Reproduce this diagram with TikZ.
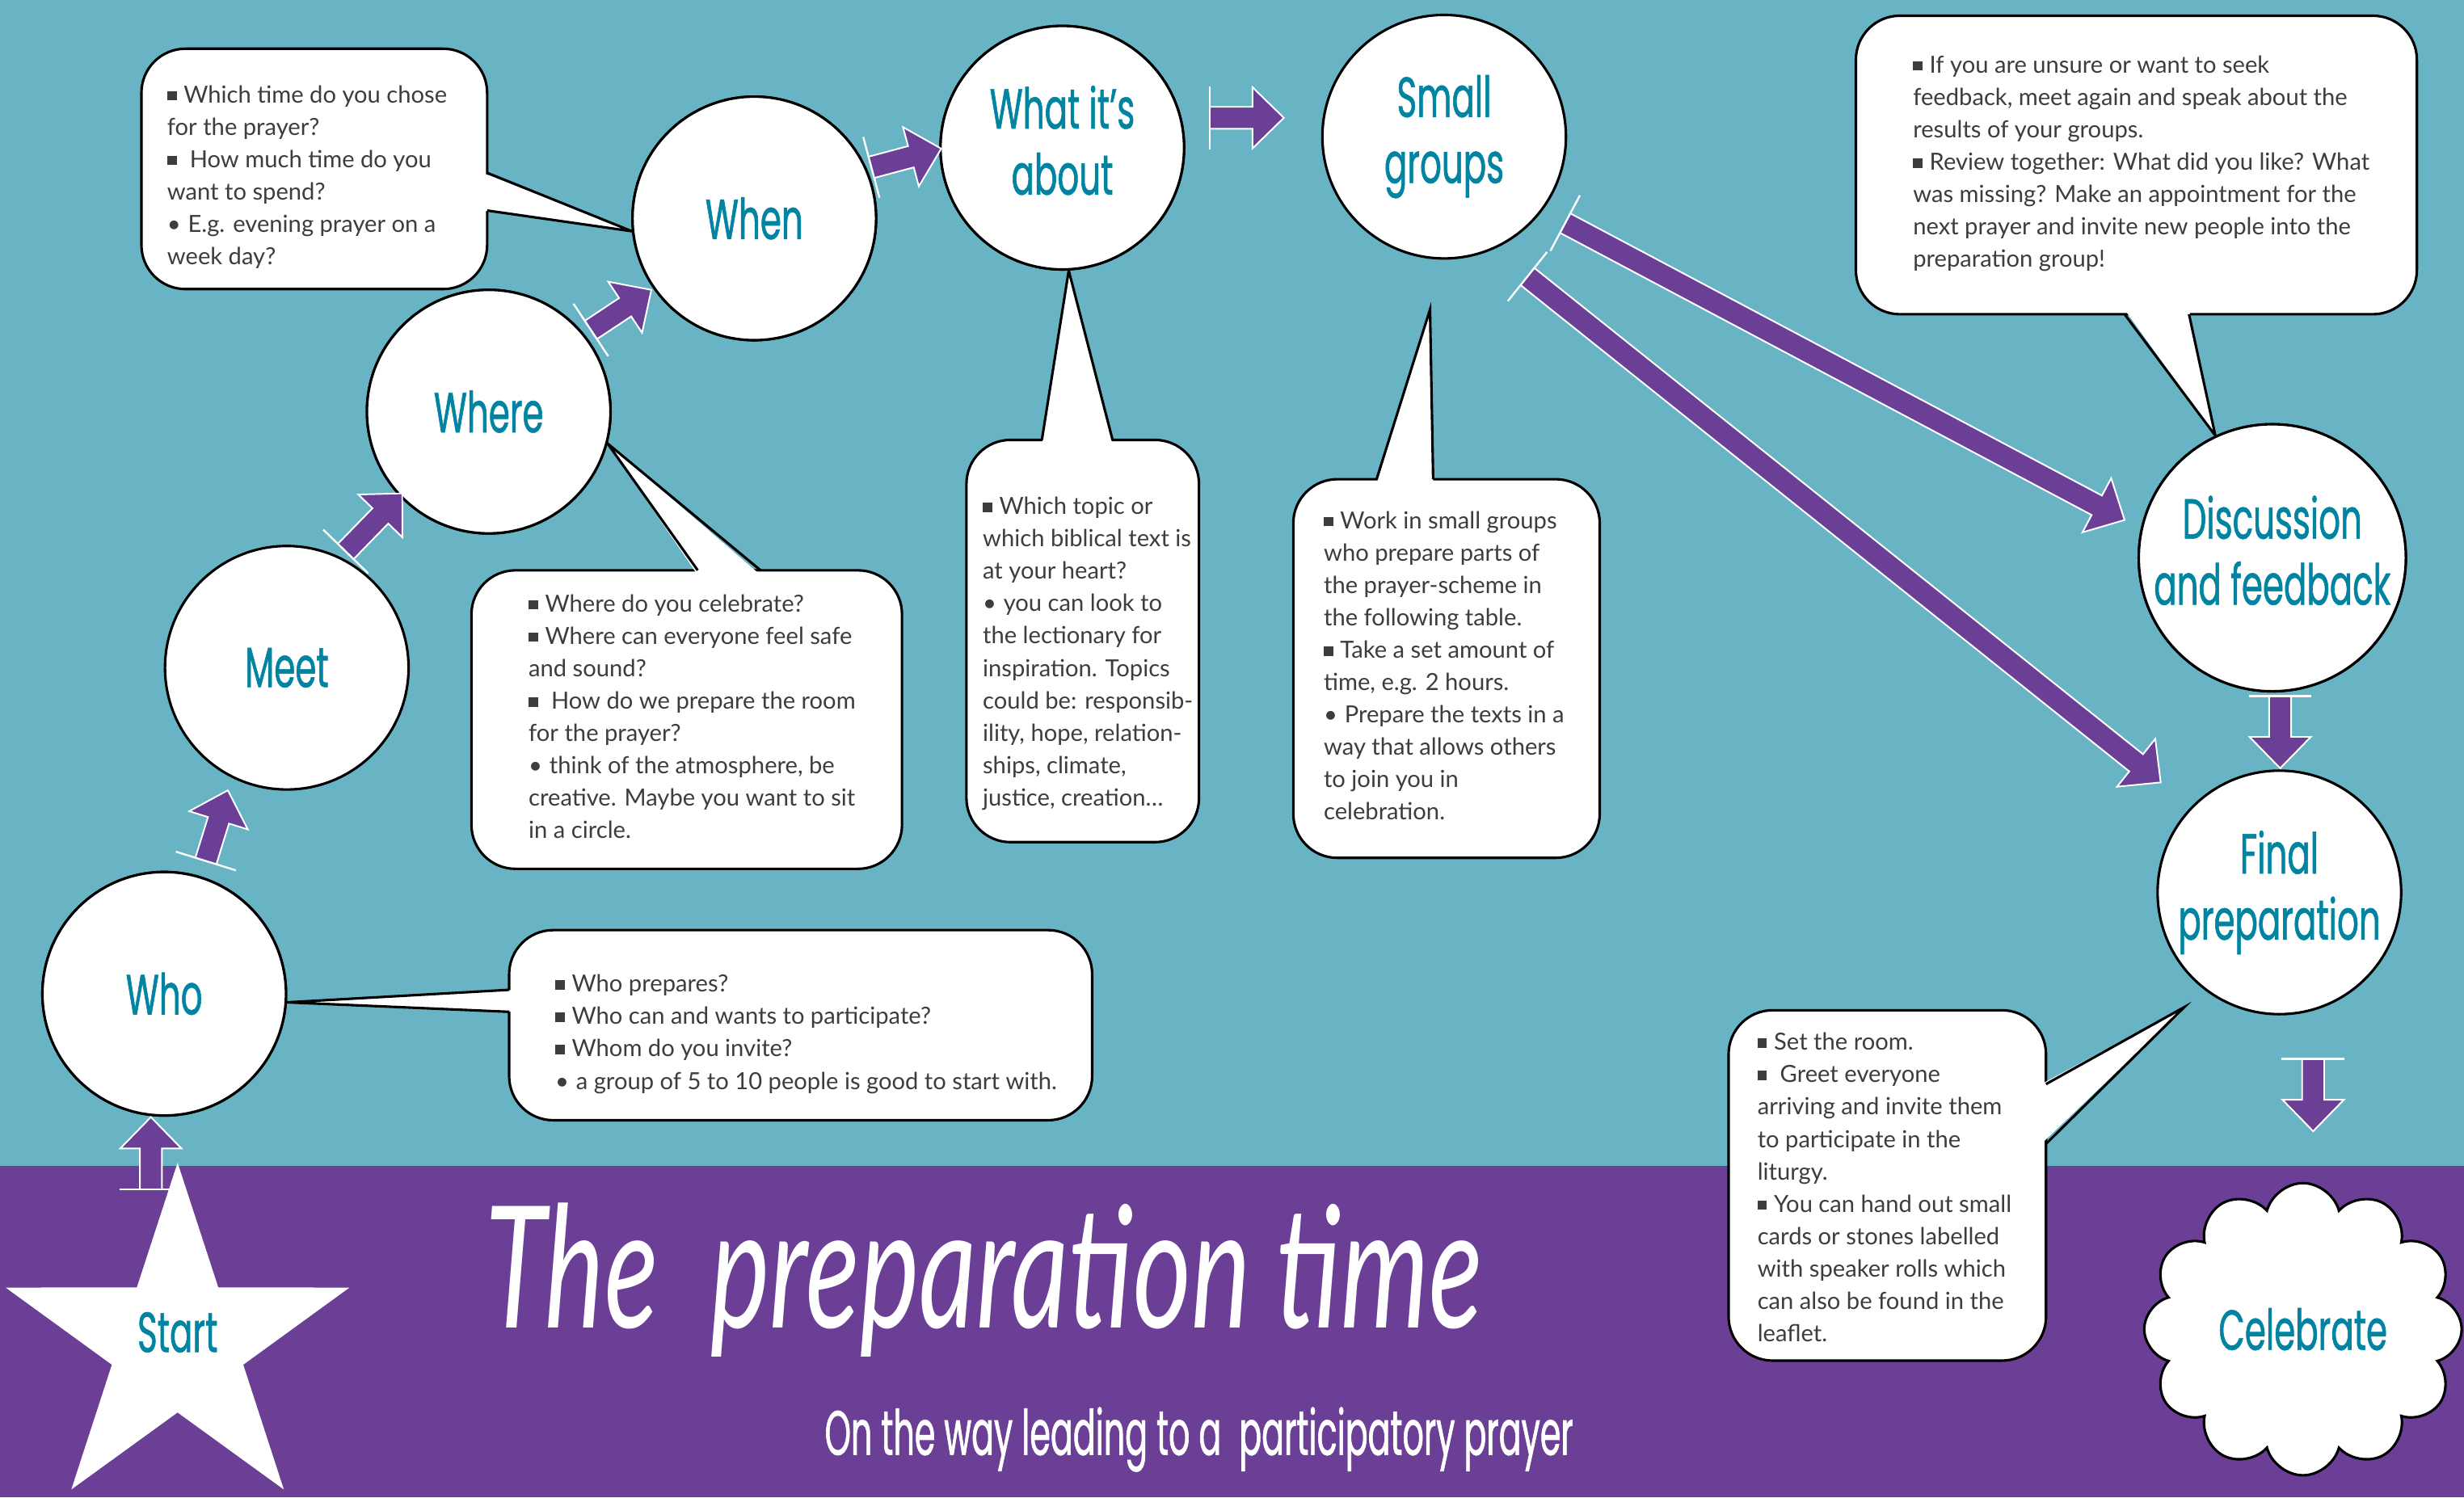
\documentclass[tikz,border=0pt]{standalone}
\usepackage{fontspec}
\setmainfont{Lato}
\newfontfamily\futura{Poppins}[FakeStretch=0.6,FakeBold=0.8]
\newfontfamily\futurasub{Poppins}[FakeStretch=0.53,FakeBold=0.8]
\newfontfamily\handfont{Lato}[FakeStretch=0.66]
\usetikzlibrary{shapes.symbols,calc}
\definecolor{bgteal}{HTML}{68B4C4}
\definecolor{bgpurple}{HTML}{6B3F96}
\definecolor{labteal}{HTML}{0084A1}
\definecolor{txtgray}{HTML}{3D3D3D}
\newcommand\sq{\rule[0.1em]{0.4em}{0.4em}\hspace{0.3em}}
\newcommand\bu{\textbullet\hspace{0.3em}}
\newcommand\blockarrow[2]{%
  \path (#1); \pgfgetlastxy{\bax}{\bay}%
  \path (#2); \pgfgetlastxy{\bbx}{\bby}%
  \pgfmathsetmacro\baang{atan2(\bby-\bay,\bbx-\bax)}%
  \pgfmathsetmacro\balen{veclen(\bbx-\bax,\bby-\bay)}%
  \pgfmathsetmacro\bahead{\balen-10}%
  \begin{scope}[shift={(#1)},rotate=\baang]
    \filldraw[arrowbody] (0pt,-3.5pt) -- (\bahead pt,-3.5pt) -- (\bahead pt,-9.75pt) -- (\balen pt,0pt) -- (\bahead pt,9.75pt) -- (\bahead pt,3.5pt) -- (0pt,3.5pt);
    \draw[arrowbar] (0pt,-10pt) -- (0pt,10pt);
  \end{scope}}
\begin{document}
\begin{tikzpicture}[x=0.5pt,y=-0.5pt,
  stage/.style={circle, draw=black, line width=0.8pt, fill=white, minimum size=77.5pt, inner sep=0pt, text=labteal, font=\futura\fontsize{18}{21}\selectfont, align=center},
  callout/.style={draw=black, line width=0.8pt, fill=white, rounded corners=14pt},
  tailfill/.style={fill=white},
  tailline/.style={draw=black, line width=0.8pt, line join=miter},
  body/.style={font=\fontsize{7.5}{10.3}\selectfont, text=txtgray, align=left, inner sep=0pt, anchor=north west},
  arrowbody/.style={fill=bgpurple, draw=white, line width=0.5pt, line join=miter},
  arrowbar/.style={draw=white, line width=0.6pt},
  lab/.style={text=labteal, font=\futura\fontsize{18}{21}\selectfont, align=center, inner sep=0pt}]

\useasboundingbox (0,0) rectangle (1568,953);
\fill[bgteal] (0,0) rectangle (1568,742);
\fill[bgpurple] (0,742) rectangle (1568,953);

% circle nodes
\node[stage] (who) at (104.5,632.5) {Who};
\node[stage] (meet) at (182.5,425) {Meet};
\node[stage] (where) at (311,262) {Where};
\node[stage] (when) at (480,139) {When};
\node[stage] (what) at (676,94) {What it’s\\about\vphantom{gp}};
\node[stage] (small) at (919,87) {Small\\groups};
\node[stage] (disc) at (1446,355) {Discussion\\and feedback\vphantom{gp}};
\node[stage] (final) at (1450.5,568) {Final\\preparation};

% pointer tips not on circles
\coordinate (tipsmall) at (910,197);
\coordinate (tipfinal) at (1390,641);

% callouts
\draw[callout] (90,31) rectangle (310,184);
\fill[tailfill] (307,110) -- (when.186) -- (307,134) -- cycle;
\draw[tailline] (310,110) -- (when.186) -- (310,134);

\draw[callout] (300,363) rectangle (574,553);
\fill[tailfill] (444,366) -- (where.-15) -- (484,366) -- cycle;
\draw[tailline] (444,363) -- (where.-15) -- (484,363);

\draw[callout] (615,280) rectangle (763,536);
\fill[tailfill] (663,283) -- (what.-87) -- (708,283) -- cycle;
\draw[tailline] (663,280) -- (what.-87) -- (708,280);

\draw[callout] (823,305) rectangle (1018,546);
\fill[tailfill] (876,308) -- (tipsmall) -- (912,308) -- cycle;
\draw[tailline] (876,305) -- (tipsmall) -- (912,305);

\draw[callout] (324,592) rectangle (695,713);
\fill[tailfill] (327,630) -- (who.-4) -- (327,644) -- cycle;
\draw[tailline] (324,630) -- (who.-4) -- (324,644);

\draw[callout] (1181,10) rectangle (1538,200);
\fill[tailfill] (1352,197) -- (disc.115) -- (1393,197) -- cycle;
\draw[tailline] (1352,200) -- (disc.115) -- (1393,200);

\draw[callout] (1100,643) rectangle (1302,866);
\fill[tailfill] (1299,690) -- (tipfinal) -- (1299,728) -- cycle;
\draw[tailline] (1302,690) -- (tipfinal) -- (1302,728);

% redraw circles on top of pointer tips
\node[stage] at (who) {Who};
\node[stage] at (where) {Where};
\node[stage] at (when) {When};
\node[stage] at (what) {What it’s\\about\vphantom{gp}};
\node[stage] at (disc) {Discussion\\and feedback\vphantom{gp}};

% callout texts
\node[body] (twhen) at (106,54) {\sq Which time do you chose\\for the prayer?\\\sq\ How much time do you\\want to spend?\\\bu E.g. evening prayer on a\\week day?};
\node[body] (twhere) at (336,378) {\sq Where do you celebrate?\\\sq Where can everyone feel safe\\and sound?\\\sq\ How do we prepare the room\\for the prayer?\\\bu think of the atmosphere, be\\creative. Maybe you want to sit\\in a circle.};
\node[body] (twhat) at (625,316) {\sq Which topic or\\which biblical text is\\at your heart?\\\bu you can look to\\the lectionary for\\inspiration. Topics\\could be: responsib-\\ility, hope, relation-\\ships, climate,\\justice, creation\dots};
\node[body] (tsmall) at (842,325) {\sq Work in small groups\\who prepare parts of\\the prayer-scheme in\\the following table.\\\sq Take a set amount of\\time, e.g. 2 hours.\\\bu Prepare the texts in a\\way that allows others\\to join you in\\celebration.};
\node[body] (twho) at (353,620) {\sq Who prepares?\\\sq Who can and wants to participate?\\\sq Whom do you invite?\\\bu a group of 5 to 10 people is good to start with.};
\node[body] (tdisc) at (1217,35) {\sq If you are unsure or want to seek\\feedback, meet again and speak about the\\results of your groups.\\\sq Review together: What did you like? What\\was missing? Make an appointment for the\\next prayer and invite new people into the\\preparation group!};
\node[body] (tfinal) at (1118,657) {\sq Set the room.\\\sq\ Greet everyone\\arriving and invite them\\to participate in the\\liturgy.\\\sq You can hand out small\\cards or stones labelled\\with speaker rolls which\\can also be found in the\\leaflet.};

% star
\fill[white] (113,740) -- (87.1,819.4) -- (3.6,819.5) -- (71.2,868.6) -- (45.4,948) -- (113,899) -- (180.6,948) -- (154.8,868.6) -- (222.4,819.5) -- (138.9,819.4) -- cycle;
\node[lab] (start) at (113,848) {Start};

% cloud
\node[cloud, cloud puffs=12, cloud puff arc=150, aspect=1.1, draw=black, line width=0.8pt, fill=white, minimum width=101pt, minimum height=93pt, inner sep=0pt, text=labteal, font=\futura\fontsize{18}{21}\selectfont] (celebrate) at (1465.5,846) {Celebrate};

% arrow ends
\coordinate (a1t) at (96,757);   \coordinate (a1h) at (96,711);
\coordinate (a2t) at (131,548);  \coordinate (a2h) at (145,503);
\coordinate (a3t) at (220,351);  \coordinate (a3h) at (256,314);
\coordinate (a4t) at (376,210);  \coordinate (a4h) at (414.5,184.5);
\coordinate (a5t) at (554.5,106.5); \coordinate (a5h) at (599,94.6);
\coordinate (a6t) at (770,75);   \coordinate (a6h) at (817,75);
\coordinate (a7t) at (996,142);  \coordinate (a7h) at (1352,331);
\coordinate (a8t) at (972,176);  \coordinate (a8h) at (1375,498);
\coordinate (a9t) at (1451,443); \coordinate (a9h) at (1451,489);
\coordinate (a10t) at (1472,674); \coordinate (a10h) at (1472,720);
\blockarrow{a1t}{a1h}
\blockarrow{a2t}{a2h}
\blockarrow{a3t}{a3h}
\blockarrow{a4t}{a4h}
\blockarrow{a5t}{a5h}
\blockarrow{a6t}{a6h}
\blockarrow{a7t}{a7h}
\blockarrow{a8t}{a8h}
\blockarrow{a9t}{a9h}
\blockarrow{a10t}{a10h}

% titles
\node[font=\handfont\itshape\fontsize{54}{54}\selectfont, text=white, anchor=base, inner sep=0pt] (title) at (626,845) {The\ \ preparation\ time};
\node[font=\futurasub\fontsize{20}{20}\selectfont, text=white, anchor=base, inner sep=0pt] (subtitle) at (763,926) {On the way leading to a\ \ participatory prayer};
\end{tikzpicture}
\end{document}
